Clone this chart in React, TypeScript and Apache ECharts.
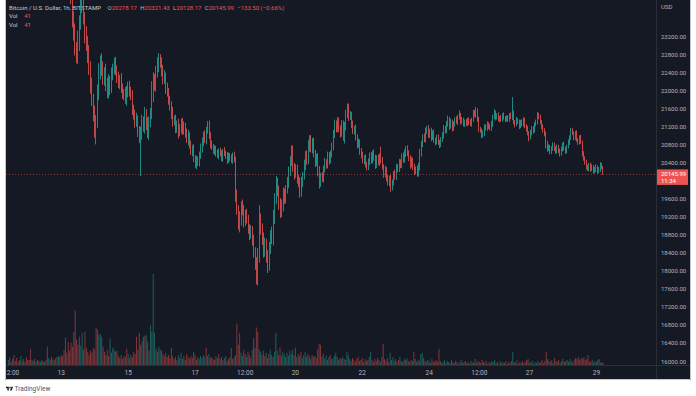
import { useEffect, useRef } from "react";
import * as echarts from "echarts";

// ---- data (hourly candles, Bitstamp BTC/USD) ----
const FIRST_OPEN = 29150;
const CLOSES = [
  29180,29250,29100,29050,28950,29010,28900,28850,28700,28780,28650,28550,28600,28450,28400,28350,28200,28300,28100,27950,
  28050,27900,27750,27800,27650,27500,27600,27400,27300,27350,27100,26950,27050,26800,26900,26700,26750,26600,26300,26000,
  25800,25900,25500,25100,24800,24600,24100,23600,23300,22950,22750,23100,23500,23900,24000,23600,23250,23050,22800,22500,
  22100,21800,21500,21150,21300,21900,22400,22650,22500,22250,22400,22150,21950,22200,22050,22350,22500,22600,22450,22300,
  22150,22250,22050,21900,21950,21800,21950,22100,21950,21900,21600,21450,21300,21350,21100,20950,21050,21300,21200,21450,
  21250,21050,21300,21500,21900,22200,22100,22400,22550,22700,22600,22450,22250,22300,22050,21950,21800,21650,21500,21300,
  21350,21150,21250,21050,21150,21300,21100,21200,21050,20900,21000,20800,20650,20700,20500,20350,20450,20400,20550,20700,
  20850,21000,20900,21100,21200,21000,20800,20750,20650,20700,20600,20550,20650,20600,20500,20650,20600,20550,20450,20550,
  20500,20450,20550,20450,19600,19300,19000,19200,19450,19350,19100,19250,19150,18950,18800,18900,18700,18400,18150,17850,
  18300,19150,18950,18700,18450,18600,18300,18150,18500,18800,18700,19200,19600,19900,19750,19500,19300,19450,19700,19600,
  19800,19950,20200,20400,20650,20300,20150,20250,20050,19950,19750,19950,20100,20350,20550,20450,20750,20900,20700,20850,
  20600,20400,20500,20200,19950,20100,20050,20250,20400,20350,20550,20450,20600,20750,21000,21250,21150,21300,21150,21050,
  21250,20950,21200,21450,21600,21400,21450,21250,21100,21150,20950,20800,20850,20650,20550,20450,20500,20350,20300,20400,
  20550,20450,20600,20500,20350,20500,20400,20550,20450,20300,20150,20250,20050,19950,20050,19850,19950,20150,20100,20300,
  20250,20400,20350,20550,20450,20600,20700,20600,20500,20350,20450,20300,20200,20250,20150,20300,20600,20800,20950,20900,
  21100,21150,21000,21100,20950,21050,20900,20850,20950,20850,20800,20900,21000,21150,21100,21250,21350,21200,21300,21150,
  21250,21350,21300,21400,21450,21300,21350,21250,21300,21250,21350,21300,21250,21350,21500,21450,21550,21350,21150,21100,
  21000,21050,21200,21150,21250,21200,21150,21250,21400,21500,21400,21450,21350,21400,21350,21450,21400,21350,21400,21350,
  21450,21400,21500,21300,21250,21350,21300,21200,21300,21250,21350,21200,21150,21050,20950,21050,21150,21100,21250,21300,
  21450,21400,21300,21200,21100,21050,20800,20700,20750,20650,20700,20800,20700,20650,20750,20650,20600,20700,20800,20700,
  20650,20750,20850,20950,21100,21050,20950,21050,20900,20850,20950,20850,20600,20500,20400,20300,20250,20350,20250,20300,
  20200,20250,20300,20200,20250,20350,20279.49,20145.99,
];
const WICK_UP = [
  80,60,120,50,90,40,70,110,60,50,90,70,40,100,60,80,50,130,70,60,
  90,50,70,120,60,80,40,100,70,60,150,80,60,90,110,70,50,140,90,120,
  200,150,180,120,250,160,140,200,150,180,120,220,160,140,190,250,130,170,150,200,
  140,180,120,160,150,230,200,120,170,140,110,190,130,160,120,150,90,120,140,100,
  110,90,130,100,80,120,150,90,110,130,100,80,120,150,90,110,140,160,120,180,
  130,150,120,110,300,200,160,140,180,120,100,130,110,150,90,120,100,80,110,130,
  90,110,80,120,100,70,90,110,80,100,120,70,90,80,110,60,100,80,90,120,
  100,80,110,90,120,130,70,90,60,80,70,90,60,80,70,50,90,60,80,70,
  60,80,70,90,80,200,150,120,90,130,110,100,120,90,80,110,90,100,120,150,
  200,300,120,100,150,130,110,160,140,100,180,150,120,200,160,140,110,130,150,120,
  100,130,110,140,130,120,90,110,100,80,120,130,90,110,100,120,150,100,110,90,
  100,80,90,110,120,70,90,80,100,70,90,80,60,90,120,100,80,110,90,70,
  90,80,100,120,100,110,90,70,80,60,90,70,80,60,70,90,60,80,70,90,
  70,80,60,90,70,60,80,50,200,70,60,80,50,70,60,80,70,60,90,70,
  60,80,70,50,70,90,60,80,70,60,80,50,70,60,80,90,100,80,70,90,
  70,60,80,50,70,60,80,50,60,70,50,60,70,80,60,70,90,60,70,50,
  60,50,70,60,100,50,60,40,50,60,40,50,60,40,70,60,80,50,60,40,
  50,60,40,50,60,40,50,70,60,80,50,40,60,30,50,40,60,30,40,50,
  40,60,350,50,40,60,30,50,40,60,50,40,50,60,40,70,50,60,40,50,
  70,50,60,40,50,60,40,80,50,40,60,50,40,60,50,40,60,50,40,60,
  50,40,60,50,70,60,40,50,60,40,50,60,40,50,40,60,50,40,50,60,
  40,50,60,40,50,60,40,42,
];
const WICK_DOWN = [
  60,90,50,70,110,60,80,40,100,70,50,90,60,80,120,50,70,60,90,80,
  70,100,60,80,50,90,120,60,80,70,100,60,90,130,70,80,110,60,100,150,
  180,220,160,200,240,150,190,210,200,180,150,170,230,160,190,140,210,180,200,160,
  170,150,190,200,350,140,120,160,180,130,150,170,120,140,160,110,130,150,120,140,
  100,130,110,90,120,100,140,110,90,120,150,100,130,110,140,120,850,150,120,160,
  130,110,150,120,140,160,110,130,120,150,100,140,120,110,130,90,120,100,140,110,
  80,100,90,120,70,110,90,80,100,70,120,90,80,110,90,70,100,80,90,70,
  80,90,70,100,60,80,90,70,60,80,70,50,80,60,70,90,60,70,80,60,
  70,60,80,50,70,60,90,150,200,120,140,110,100,130,120,90,140,110,130,150,
  180,120,150,130,160,140,120,200,150,130,110,140,160,120,100,150,130,110,140,120,
  110,90,120,100,80,110,130,90,120,100,130,110,90,80,120,100,90,110,80,100,
  90,100,80,110,130,90,80,100,70,90,80,100,70,90,80,60,90,70,80,100,
  80,70,130,90,70,80,60,90,70,80,60,90,70,80,60,70,90,60,80,70,
  60,80,70,60,90,70,60,80,70,60,90,80,70,60,80,100,70,60,80,90,
  70,60,80,70,60,50,80,60,70,90,60,70,80,60,70,60,80,70,60,50,
  60,70,50,60,80,50,60,70,50,60,80,60,50,70,60,50,60,80,50,60,
  50,60,40,70,50,60,40,50,60,40,50,70,40,60,50,40,60,50,70,40,
  60,50,70,40,50,60,40,50,60,40,70,50,40,60,50,40,50,60,40,50,
  50,40,60,50,70,40,50,60,40,50,60,40,70,50,80,40,50,60,40,50,
  60,40,50,60,40,70,90,60,50,70,60,40,50,60,50,40,70,50,60,40,
  60,50,40,60,50,40,60,50,40,60,50,40,70,60,50,60,40,50,60,40,
  50,40,60,50,40,60,30,18,
];
const VOLUMES = [
  150,240,90,180,300,120,210,90,150,270,120,180,90,240,150,150,480,150,120,180,
  90,150,120,90,150,120,90,150,540,210,150,240,180,150,210,240,270,240,300,270,
  450,810,360,690,420,660,540,990,1620,750,600,840,570,960,450,990,510,390,300,420,
  360,510,450,1110,1050,900,930,840,540,390,300,450,270,780,360,510,450,390,420,270,
  210,300,180,270,240,480,330,210,300,240,390,330,840,450,960,600,720,840,870,900,
  690,420,1170,990,2700,960,480,390,540,450,420,330,270,360,240,300,210,510,270,180,
  240,150,300,210,360,180,270,150,330,240,180,270,210,390,300,150,240,180,270,210,
  300,240,510,270,330,210,240,180,150,270,210,330,180,240,150,210,270,120,180,240,
  510,180,240,300,1230,600,960,360,270,450,330,240,390,300,210,450,810,510,1110,990,
  450,390,300,420,270,360,210,330,450,300,240,390,960,420,300,510,270,390,330,240,
  360,270,420,330,450,300,510,240,330,270,390,210,300,390,240,330,270,180,300,240,
  270,210,450,630,600,240,330,180,270,150,240,300,180,210,270,360,240,150,210,180,
  240,180,150,390,300,180,120,210,150,90,180,240,120,150,210,90,180,120,150,240,
  390,150,90,180,120,210,150,90,240,630,180,120,210,90,360,150,240,120,180,90,
  150,240,120,90,180,150,210,120,90,150,120,390,180,90,150,120,330,360,210,120,
  90,150,120,60,180,90,120,150,90,480,120,60,90,150,60,120,90,60,150,90,
  60,120,90,30,90,150,60,90,120,60,90,30,120,60,90,180,60,120,90,60,
  150,90,60,120,30,90,60,120,90,150,60,90,30,120,60,90,60,120,30,90,
  60,120,390,90,60,150,30,90,60,120,60,90,150,180,60,90,120,30,90,60,
  120,60,90,150,60,120,390,180,120,90,150,60,210,120,90,150,60,120,180,90,
  120,150,90,180,120,60,150,210,180,240,150,210,180,240,150,180,300,120,90,150,
  60,120,90,150,180,60,90,45,
];
const TOTAL_SLOTS = 466; // hourly slots incl. empty right margin
const TIME_LABELS: [number, string][] = [
  [2, "12:00"], [38, "13"], [86, "15"], [134, "17"], [170, "12:00"], [206, "20"],
  [254, "22"], [302, "24"], [338, "12:00"], [374, "27"], [422, "29"],
];
const PRICE_MIN = 16000;
const PRICE_MAX = 24000;
const PRICE_STEP = 400;
const VOLUME_MAX = 2700;
const LAST_OHLC = { o: "20278.17", h: "20321.43", l: "20128.17", c: "20145.99", chg: "−133.50 (−0.66%)" };
const LAST_PRICE = 20145.99;
const COUNTDOWN = "11:34";
const LAST_VOL = "41";

const UP = "#26a69a";
const DOWN = "#ef5350";
const BG = "#151924";
const TXT = "#b2b5be";
const FONT = "Roboto, 'Noto Sans', sans-serif";

echarts.graphic.registerShape(
  "tvlogo",
  echarts.graphic.extendPath(
    "M14 22H7V11H0V4h14v18z M28 22h-8l7.5-18h8L28 22z M20 4a4 4 0 1 1 0 8a4 4 0 1 1 0-8z",
    {}
  )
);

export default function App() {
  const ref = useRef<HTMLDivElement>(null);

  useEffect(() => {
    if (!ref.current) return;
    const chart = echarts.init(ref.current, null, { renderer: "svg" });

    const cats = Array.from({ length: TOTAL_SLOTS }, (_, i) => String(i));
    const candles = CLOSES.map((c, i) => {
      const o = i === 0 ? FIRST_OPEN : CLOSES[i - 1];
      const hi = Math.max(o, c) + WICK_UP[i];
      const lo = Math.min(o, c) - WICK_DOWN[i];
      return [o, c, lo, hi];
    });
    const vols = VOLUMES.map((v, i) => ({
      value: v,
      itemStyle: {
        color: candles[i][1] >= candles[i][0] ? "rgba(38,166,154,0.5)" : "rgba(239,83,80,0.5)",
      },
    }));
    const labelMap = new Map<number, string>(TIME_LABELS);

    chart.setOption({
      animation: false,
      backgroundColor: BG,
      textStyle: { fontFamily: FONT },
      grid: [
        { left: 6, right: 39, top: -12.33, bottom: 35 },
        { left: 6, right: 39, top: 274, bottom: 31 },
      ],
      xAxis: [
        { type: "category", data: cats, gridIndex: 0, show: false, boundaryGap: true },
        {
          type: "category",
          data: cats,
          gridIndex: 1,
          boundaryGap: true,
          axisLine: { show: false },
          axisTick: { show: false },
          splitLine: { show: false },
          axisLabel: {
            interval: 0,
            formatter: (v: string) => labelMap.get(Number(v)) || "",
            color: TXT,
            fontSize: 6.5,
            margin: 4,
            fontFamily: FONT,
          },
        },
      ],
      yAxis: [
        {
          type: "value",
          gridIndex: 0,
          position: "right",
          min: PRICE_MIN,
          max: PRICE_MAX,
          interval: PRICE_STEP,
          axisLine: { show: false },
          axisTick: { show: false },
          splitLine: { show: false },
          axisLabel: {
            color: TXT,
            fontSize: 6,
            margin: 4,
            fontFamily: FONT,
            formatter: (v: number) =>
              v >= 23600 || Math.abs(v - LAST_PRICE) < 250 ? "" : v.toFixed(2),
          },
        },
        { type: "value", gridIndex: 1, min: 0, max: VOLUME_MAX, show: false },
      ],
      series: [
        {
          type: "candlestick",
          xAxisIndex: 0,
          yAxisIndex: 0,
          data: candles,
          barWidth: 1.2,
          clip: true,
          itemStyle: {
            color: UP,
            color0: DOWN,
            borderColor: UP,
            borderColor0: DOWN,
            borderWidth: 0.8,
          },
          markLine: {
            silent: true,
            symbol: ["none", "none"],
            label: { show: false },
            lineStyle: { color: DOWN, type: [1, 2], width: 0.8, opacity: 0.65 },
            data: [{ yAxis: LAST_PRICE }],
          },
          z: 3,
        },
        {
          type: "bar",
          xAxisIndex: 1,
          yAxisIndex: 1,
          data: vols,
          barWidth: 1,
          z: 2,
        },
      ],
    });

    const py = chart.convertToPixel({ yAxisIndex: 0 }, LAST_PRICE) as number;
    const richBase = {
      g: { fill: TXT, fontSize: 6, fontFamily: FONT },
      t: { fill: "#c9ccd4", fontSize: 6, fontFamily: FONT },
      r: { fill: DOWN, fontSize: 6, fontFamily: FONT },
    };

    chart.setOption({
      graphic: [
        {
          type: "text",
          x: 9,
          y: 7,
          style: {
            text: `{t|Bitcoin / U.S. Dollar, 1h, BITSTAMP}  {g|O}{r|${LAST_OHLC.o}} {g|H}{r|${LAST_OHLC.h}} {g|L}{r|${LAST_OHLC.l}} {g|C}{r|${LAST_OHLC.c}} {r|${LAST_OHLC.chg}}`,
            rich: richBase,
            verticalAlign: "middle",
          },
          z: 0,
        },
        {
          type: "text",
          x: 9,
          y: 15.5,
          style: { text: `{t|Vol}  {r|${LAST_VOL}}`, rich: richBase, verticalAlign: "middle" },
          z: 0,
        },
        {
          type: "text",
          x: 9,
          y: 24,
          style: { text: `{t|Vol}  {r|${LAST_VOL}}`, rich: richBase, verticalAlign: "middle" },
          z: 0,
        },
        {
          type: "text",
          x: 661,
          y: 6,
          style: { text: "USD", fill: TXT, fontSize: 6, fontFamily: FONT, verticalAlign: "middle" },
          z: 10,
        },
        // price scale / time scale separators
        { type: "line", shape: { x1: 656.5, y1: 0, x2: 656.5, y2: 380 }, style: { stroke: "#2a2e39", lineWidth: 1 }, z: 10 },
        { type: "line", shape: { x1: 5, y1: 365.5, x2: 691, y2: 365.5 }, style: { stroke: "#2a2e39", lineWidth: 1 }, z: 10 },
        // current price tag
        {
          type: "group",
          x: 657,
          y: py - 4.5,
          z: 20,
          children: [
            { type: "rect", shape: { x: 0, y: 0, width: 31, height: 15.5 }, style: { fill: DOWN }, z: 20 },
            { type: "text", x: 4, y: 4, style: { text: LAST_OHLC.c, fill: "#fff", fontSize: 6, fontFamily: FONT, verticalAlign: "middle" }, z: 21 },
            { type: "text", x: 4, y: 11, style: { text: COUNTDOWN, fill: "#fff", fontSize: 6, fontFamily: FONT, verticalAlign: "middle" }, z: 21 },
          ],
        },
        // white page surround
        { type: "rect", shape: { x: 0, y: 380, width: 696, height: 16 }, style: { fill: "#fff" }, z: 100 },
        { type: "rect", shape: { x: 0, y: 0, width: 5, height: 380 }, style: { fill: "#fff" }, z: 100 },
        { type: "rect", shape: { x: 691, y: 0, width: 5, height: 380 }, style: { fill: "#fff" }, z: 100 },
        { type: "rect", shape: { x: 5.5, y: -1, width: 685, height: 380.5 }, style: { fill: "none", stroke: "#c4c7ce", lineWidth: 1 }, z: 101 },
        // TradingView logo
        {
          type: "tvlogo",
          x: 6,
          y: 386,
          scaleX: 0.2,
          scaleY: 0.2,
          style: { fill: "#131722" },
          z: 101,
        },
        {
          type: "text",
          x: 14.5,
          y: 388.5,
          style: { text: "TradingView", fill: "#50535e", fontSize: 6.5, fontFamily: FONT, verticalAlign: "middle" },
          z: 101,
        },
      ],
    });

    return () => chart.dispose();
  }, []);

  return (
    <div
      ref={ref}
      style={{ position: "absolute", left: 0, top: 0, width: 696, height: 396 }}
    />
  );
}
